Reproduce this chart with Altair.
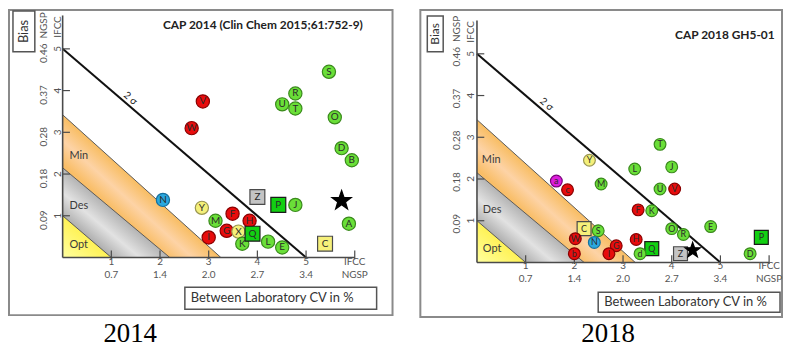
import math
import altair as alt
import pandas as pd

FONT = "Lato"

# ----------------------------- data -----------------------------
# 2014 panel: CAP 2014 (Clin Chem 2015;61:752-9)
lab_2014 = ["S", "R", "U", "T", "O", "D", "B", "V", "W", "N", "Y", "Z", "P", "J", "A", "C",
            "M", "F", "H", "I", "G", "X", "K", "Q", "L", "E", ""]
x_2014 = [5.47, 4.78, 4.51, 4.78, 5.59, 5.73, 5.94, 2.88, 2.65, 2.06, 2.86, 4.00, 4.43, 4.78, 5.88, 5.39,
          3.14, 3.49, 3.84, 3.00, 3.37, 3.61, 3.69, 3.90, 4.22, 4.51, 5.73]
y_2014 = [4.45, 3.93, 3.67, 3.57, 3.36, 2.62, 2.33, 3.74, 3.10, 1.38, 1.19, 1.45, 1.26, 1.26, 0.81, 0.33,
          0.88, 1.05, 0.88, 0.48, 0.64, 0.62, 0.33, 0.57, 0.38, 0.24, 1.36]
grp_2014 = ["green", "green", "green", "green", "green", "green", "green", "red", "red", "blue", "yellow",
            "graysq", "greensq", "green", "green", "yellowsq",
            "green", "red", "red", "red", "red", "yellow", "green", "greensq", "green", "green", "star"]

# 2018 panel: CAP 2018 GH5-01
lab_2018 = ["T", "Y", "L", "J", "a", "c", "M", "U", "V", "F", "K", "E", "O", "R", "C", "S", "W", "N",
            "b", "G", "I", "H", "Q", "d", "Z", "D", "P", ""]
x_2018 = [3.76, 2.31, 3.24, 4.00, 1.63, 1.86, 2.55, 3.76, 4.06, 3.31, 3.59, 4.80, 4.00, 4.24, 2.20, 2.49,
          2.02, 2.41, 2.00, 2.86, 2.71, 3.27, 3.59, 3.35, 4.18, 5.61, 5.84, 4.43]
y_2018 = [2.83, 2.45, 2.24, 2.29, 1.95, 1.74, 1.88, 1.76, 1.76, 1.26, 1.24, 0.86, 0.81, 0.67, 0.81, 0.76,
          0.57, 0.48, 0.21, 0.40, 0.21, 0.55, 0.33, 0.21, 0.21, 0.21, 0.60, 0.29]
grp_2018 = ["green", "yellow", "green", "green", "magenta", "red", "green", "green", "red", "red", "green",
            "green", "green", "green", "yellowsq", "green", "red", "blue", "red", "red", "red", "red",
            "greensq", "green", "graysq", "green", "greensq", "star"]

# axis ticks and labels (IFCC and NGSP scales)
x_ticks = [1, 2, 3, 4, 5, 6]
x_ifcc_labels = ["1", "2", "3", "4", "5", "IFCC"]
x_ngsp_labels = ["0.7", "1.4", "2.0", "2.7", "3.4", "NGSP"]
y_ticks = [1, 2, 3, 4, 5]
y_ifcc_labels = ["1", "2", "3", "4", "5"]
y_ngsp_labels = ["0.09", "0.18", "0.28", "0.37", "0.46"]

# performance zones: (name, bias intercept, CV intercept)
zone_names = ["Min", "Des", "Opt"]
zone_bias_int = [3.42, 2.15, 1.0]
zone_cv_int = [3.25, 2.2, 1.0]
sigma_line = [5, 5]  # 2 sigma line intercepts (bias, CV)

# -------------------------- styling -----------------------------
FILL = {"green": "#6ADF38", "red": "#E80C0C", "yellow": "#F4F07A", "blue": "#2BA8DF", "magenta": "#DC1EDC",
        "graysq": "#C4C4C4", "greensq": "#12D012", "yellowsq": "#F6F07A", "star": "#000000"}
STROKE = {"green": "#3A8A1C", "red": "#8A0000", "yellow": "#9A9650", "blue": "#16709E", "magenta": "#7A007A",
          "graysq": "#4A4A4A", "greensq": "#1A1A1A", "yellowsq": "#4A4A4A", "star": "#000000"}


def star_path():
    pts = []
    for k in range(10):
        r = 1.0 if k % 2 == 0 else 0.40
        a = math.radians(-90 + 36 * k)
        pts.append((r * math.cos(a), r * math.sin(a)))
    return "M" + " L".join(f"{px:.3f},{py:.3f}" for px, py in pts) + " Z"


STAR = star_path()
SHAPE = {"graysq": "square", "greensq": "square", "yellowsq": "square", "star": STAR}

zone_grad = {
    "Min": [(0.0, "#F9BE68"), (0.66, "#F9BE68"), (0.82, "#FDD3A6"), (1.0, "#F8BD62")],
    "Des": [(0.0, "#B0B0B0"), (0.45, "#ADADAD"), (0.72, "#E2E2E2"), (1.0, "#B4B4B4")],
    "Opt": [(0.0, "#FFFFA0"), (1.0, "#FFF256")],
}

CFG = {
    2014: dict(W=386, H=307, xdom=[-1.102, 6.776], ydom=[-1.381, 5.929],
               bias=(4, 1, 26, 42, 13), ngsp_x=35, ifcc_x=49, ngsp_hy=15.5, ifcc_hy=17, ngsp_shift=-4.5,
               xrow_ifcc=254, xrow_ngsp=267, title=("CAP 2014 (Clin Chem 2015;61:752-9)", 255.5, 15),
               xbox=(177, 279, 370, 301), xtext=(183, 290), caption=("2014", 122, 326),
               sigma_lab=(1.39, 3.81),
               zone_lab=[(0.14, 2.43), (0.14, 1.24), (0.14, 0.29)],
               sizes={"circle": 177, "square": 225, "star": 420}, fs=10),
    2018: dict(W=364, H=309, xdom=[-1.163, 6.265], ydom=[-1.31, 6.048],
               bias=(7, 6, 23, 42, 12), ngsp_x=37, ifcc_x=51, ngsp_hy=19, ifcc_hy=22, ngsp_shift=-3,
               xrow_ifcc=258, xrow_ngsp=271, title=("CAP 2018 GH5-01", 306.5, 25),
               xbox=(179, 284, 362, 304), xtext=(185, 294), caption=("2018", 189, 326),
               sigma_lab=(1.43, 3.79),
               zone_lab=[(0.10, 2.45), (0.12, 1.26), (0.12, 0.31)],
               sizes={"circle": 140, "square": 196, "star": 260}, fs=9),
}


def txt(t, x, y, **kw):
    return alt.Chart(pd.DataFrame({"t": [t]})).mark_text(**kw).encode(
        x=alt.value(x), y=alt.value(y), text="t:N")


def box(x1, y1, x2, y2):
    return alt.Chart(pd.DataFrame({"k": [0]})).mark_rect(fill="white", stroke="#555555", strokeWidth=1.5).encode(
        x=alt.value(x1), x2=alt.value(x2), y=alt.value(y1), y2=alt.value(y2))


def panel(year, labs, xs_, ys_, grps):
    P = CFG[year]
    xsc = alt.Scale(domain=P["xdom"], nice=False, zero=False)
    ysc = alt.Scale(domain=P["ydom"], nice=False, zero=False)

    def X(f):
        return alt.X(f, type="quantitative", scale=xsc, axis=None)

    def Y(f):
        return alt.Y(f, type="quantitative", scale=ysc, axis=None)

    layers = []
    # zones (largest first)
    for name, bi, ci in zip(zone_names, zone_bias_int, zone_cv_int):
        df = pd.DataFrame({"x": [0, ci], "y": [bi, 0], "y0": [0, 0]})
        grad = alt.LinearGradient(
            gradient="linear", x1=0, y1=1, x2=0.5, y2=0.5,
            stops=[alt.GradientStop(offset=o, color=c) for o, c in zone_grad[name]])
        layers.append(alt.Chart(df).mark_area(color=grad).encode(
            x=X("x"), y=Y("y"), y2=alt.Y2("y0")))
        layers.append(alt.Chart(df).mark_line(color="#5a5a5a", strokeWidth=1).encode(
            x=X("x"), y=Y("y")))
    # zone labels
    zl = pd.DataFrame({"t": zone_names, "x": [p[0] for p in P["zone_lab"]], "y": [p[1] for p in P["zone_lab"]]})
    layers.append(alt.Chart(zl).mark_text(align="left", baseline="middle", font=FONT, fontSize=11,
                                          color="#3a3a3a").encode(x=X("x"), y=Y("y"), text="t:N"))
    # 2 sigma line
    sl = pd.DataFrame({"x": [0, sigma_line[1]], "y": [sigma_line[0], 0]})
    layers.append(alt.Chart(sl).mark_line(color="#111111", strokeWidth=2).encode(x=X("x"), y=Y("y")))
    sgl = pd.DataFrame({"t": ["2 σ"], "x": [P["sigma_lab"][0]], "y": [P["sigma_lab"][1]]})
    layers.append(alt.Chart(sgl).mark_text(angle=41, font=FONT, fontSize=10, color="#222222").encode(
        x=X("x"), y=Y("y"), text="t:N"))
    # axis lines
    ax = pd.DataFrame({"x": [0, x_ticks[-1]], "y": [0, 0]})
    layers.append(alt.Chart(ax).mark_line(color="#4a4a4a", strokeWidth=1.6).encode(x=X("x"), y=Y("y")))
    ay = pd.DataFrame({"x": [0, 0], "y": [0, 5.8]})
    layers.append(alt.Chart(ay).mark_line(color="#4a4a4a", strokeWidth=1.6).encode(x=X("x"), y=Y("y")))
    # ticks
    xt = pd.DataFrame({"x": x_ticks, "y": [-0.04] * len(x_ticks), "y2": [0.17] * len(x_ticks),
                       "a": x_ifcc_labels, "b": x_ngsp_labels})
    layers.append(alt.Chart(xt).mark_rule(color="#4a4a4a", strokeWidth=1.2).encode(
        x=X("x"), y=Y("y"), y2=alt.Y2("y2")))
    yt = pd.DataFrame({"y": y_ticks, "x": [0.0] * len(y_ticks), "x2": [0.15] * len(y_ticks),
                       "a": y_ifcc_labels, "b": y_ngsp_labels})
    layers.append(alt.Chart(yt).mark_rule(color="#4a4a4a", strokeWidth=1.2).encode(
        y=Y("y"), x=X("x"), x2=alt.X2("x2")))
    # tick labels
    lab_style = dict(font=FONT, fontSize=10, color="#555555", baseline="middle")
    layers.append(alt.Chart(xt).mark_text(**lab_style).encode(
        x=X("x"), y=alt.value(P["xrow_ifcc"]), text="a:N"))
    layers.append(alt.Chart(xt).mark_text(**lab_style).encode(
        x=X("x"), y=alt.value(P["xrow_ngsp"]), text="b:N"))
    layers.append(alt.Chart(yt).mark_text(angle=270, **lab_style).encode(
        y=Y("y"), x=alt.value(P["ifcc_x"]), text="a:N"))
    layers.append(alt.Chart(yt).mark_text(angle=270, dx=P["ngsp_shift"], **lab_style).encode(
        y=Y("y"), x=alt.value(P["ngsp_x"]), text="b:N"))
    layers.append(txt("NGSP", P["ngsp_x"], P["ngsp_hy"], angle=270, **lab_style))
    layers.append(txt("IFCC", P["ifcc_x"], P["ifcc_hy"], angle=270, **lab_style))
    # Bias box
    bx1, by1, bx2, by2, bfs = P["bias"]
    layers.append(box(bx1, by1, bx2, by2))
    layers.append(txt("Bias", (bx1 + bx2) / 2, (by1 + by2) / 2, font=FONT, fontSize=bfs, color="#333333",
                      angle=270, baseline="middle"))
    # title
    tt, tx, ty = P["title"]
    layers.append(txt(tt, tx, ty, font=FONT, fontSize=12, fontWeight="bold", color="#222222", baseline="middle"))
    # x title box
    qx1, qy1, qx2, qy2 = P["xbox"]
    layers.append(box(qx1, qy1, qx2, qy2))
    layers.append(txt("Between Laboratory CV in %", P["xtext"][0], P["xtext"][1], font=FONT, fontSize=13,
                      color="#333333", align="left", baseline="middle"))
    # caption
    ct, cx, cy = P["caption"]
    layers.append(txt(ct, cx, cy, font="Liberation Serif", fontSize=27, color="#000000", baseline="middle"))
    # laboratories
    df = pd.DataFrame({"lab": labs, "x": xs_, "y": ys_, "grp": grps})
    df["shape"] = [SHAPE.get(g, "circle") for g in grps]
    df["fillc"] = [FILL[g] for g in grps]
    df["strokec"] = [STROKE[g] for g in grps]
    kind = ["star" if g == "star" else ("square" if g.endswith("sq") else "circle") for g in grps]
    df["sz"] = [P["sizes"][s] for s in kind]
    layers.append(alt.Chart(df).mark_point(filled=True, opacity=1, strokeWidth=1.2).encode(
        x=X("x"), y=Y("y"),
        fill=alt.Fill("fillc:N", scale=None),
        stroke=alt.Stroke("strokec:N", scale=None),
        shape=alt.Shape("shape:N", scale=None),
        size=alt.Size("sz:Q", scale=None),
    ))
    layers.append(alt.Chart(df[df.lab != ""]).mark_text(
        font=FONT, fontSize=P["fs"], color="#2a2a2a", baseline="middle").encode(
        x=X("x"), y=Y("y"), text="lab:N"))

    return alt.layer(*layers).properties(width=P["W"], height=P["H"])


left = panel(2014, lab_2014, x_2014, y_2014, grp_2014)
right = panel(2018, lab_2018, x_2018, y_2018, grp_2018)

chart = alt.hconcat(left, right, spacing=26).properties(padding=0).configure_view(
    stroke="#8a8a8a", strokeWidth=2)

chart.save("out.html", embed_options={"renderer": "svg", "actions": False})
